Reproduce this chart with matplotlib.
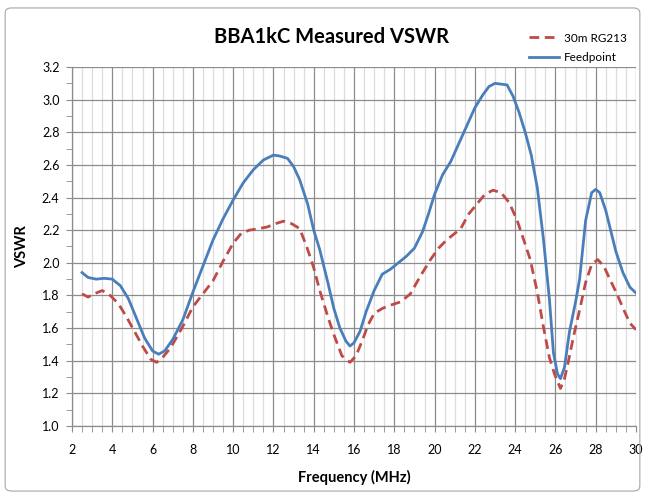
import matplotlib
matplotlib.use("Agg")
import matplotlib.pyplot as plt
from matplotlib.ticker import MultipleLocator, FormatStrFormatter
from matplotlib.patches import FancyBboxPatch

# ---- data ----
feed_freq = [2.5, 2.8, 3.2, 3.6, 4.0, 4.4, 4.8, 5.2, 5.6, 6.0, 6.3, 6.6, 7.0, 7.5,
             8.0, 8.5, 9.0, 9.5, 10.0, 10.5, 11.0, 11.5, 12.0, 12.3, 12.7, 13.0,
             13.3, 13.7, 14.0, 14.3, 14.7, 15.0, 15.3, 15.6, 15.8, 16.0, 16.3,
             16.6, 17.0, 17.4, 17.8, 18.2, 18.6, 19.0, 19.4, 19.7, 20.0, 20.4,
             20.8, 21.2, 21.6, 22.0, 22.4, 22.7, 23.0, 23.3, 23.6, 23.9, 24.2,
             24.5, 24.8, 25.1, 25.4, 25.7, 25.9, 26.1, 26.25, 26.45, 26.7, 27.0,
             27.2, 27.5, 27.8, 28.0, 28.2, 28.5, 28.7, 29.0, 29.35, 29.7, 30.0]
feed_vswr = [1.94, 1.91, 1.90, 1.905, 1.90, 1.86, 1.78, 1.66, 1.54, 1.46, 1.44,
             1.46, 1.53, 1.65, 1.82, 1.98, 2.14, 2.27, 2.385, 2.49, 2.57, 2.63,
             2.66, 2.655, 2.64, 2.59, 2.51, 2.36, 2.20, 2.08, 1.88, 1.72, 1.60,
             1.52, 1.49, 1.51, 1.58, 1.70, 1.83, 1.93, 1.96, 2.00, 2.04, 2.09,
             2.19, 2.30, 2.42, 2.54, 2.62, 2.73, 2.84, 2.95, 3.03, 3.08, 3.10,
             3.095, 3.09, 3.02, 2.92, 2.80, 2.66, 2.46, 2.15, 1.78, 1.45, 1.32,
             1.29, 1.36, 1.58, 1.76, 1.90, 2.26, 2.43, 2.45, 2.43, 2.32, 2.22,
             2.07, 1.94, 1.85, 1.815]

coax_freq = [2.5, 2.8, 3.1, 3.5, 3.9, 4.3, 4.7, 5.1, 5.5, 5.9, 6.2, 6.5, 6.9, 7.5,
             8.0, 8.5, 9.0, 9.5, 10.0, 10.4, 10.8, 11.3, 11.7, 12.1, 12.5, 12.9,
             13.3, 13.65, 14.0, 14.3, 14.7, 15.0, 15.4, 15.8, 16.1, 16.4, 16.7,
             17.0, 17.4, 17.8, 18.3, 18.8, 19.3, 19.8, 20.2, 20.6, 21.0, 21.3,
             21.7, 22.1, 22.5, 22.9, 23.3, 23.7, 24.1, 24.4, 24.75, 25.1, 25.4,
             25.7, 25.95, 26.25, 26.45, 26.65, 26.9, 27.2, 27.5, 27.8, 28.1,
             28.4, 28.7, 29.05, 29.4, 29.7, 30.0]
coax_vswr = [1.81, 1.79, 1.81, 1.83, 1.80, 1.75, 1.67, 1.58, 1.49, 1.41, 1.39,
             1.42, 1.48, 1.61, 1.73, 1.81, 1.89, 2.01, 2.12, 2.18, 2.20, 2.21,
             2.22, 2.24, 2.255, 2.24, 2.21, 2.10, 1.97, 1.83, 1.67, 1.56, 1.43,
             1.39, 1.43, 1.52, 1.62, 1.69, 1.72, 1.74, 1.76, 1.81, 1.92, 2.02,
             2.09, 2.14, 2.18, 2.21, 2.30, 2.36, 2.42, 2.445, 2.43, 2.37, 2.26,
             2.15, 2.02, 1.82, 1.61, 1.42, 1.32, 1.23, 1.29, 1.40, 1.55, 1.71,
             1.88, 1.99, 2.02, 1.98, 1.90, 1.81, 1.71, 1.63, 1.59]

title = "BBA1kC Measured VSWR"
xlabel = "Frequency (MHz)"
ylabel = "VSWR"
label_coax = "30m RG213"
label_feed = "Feedpoint"

FONT = ["Lato", "DejaVu Sans"]
plt.rcParams["font.family"] = FONT

fig = plt.figure(figsize=(6.45, 4.97), dpi=100)
fig.patch.set_facecolor("white")
border = FancyBboxPatch((0.008, 0.012), 0.984, 0.972, boxstyle="round,pad=0,rounding_size=0.01",
                        transform=fig.transFigure, fill=False, edgecolor="#a6a6a6", linewidth=0.8)
fig.patches.append(border)

ax = fig.add_axes([72/645, 1-426/497, (636-72)/645, (426-67)/497])

ax.plot(coax_freq, coax_vswr, color="#be4b48", linewidth=2.0, linestyle=(0, (3.5, 2)), label=label_coax, zorder=3)
ax.plot(feed_freq, feed_vswr, color="#4a7ebb", linewidth=2.0, label=label_feed, zorder=4)

ax.set_xlim(2, 30)
ax.set_ylim(1.0, 3.2)
ax.xaxis.set_major_locator(MultipleLocator(2))
ax.xaxis.set_minor_locator(MultipleLocator(0.5))
ax.yaxis.set_major_locator(MultipleLocator(0.2))
ax.yaxis.set_minor_locator(MultipleLocator(0.1))
ax.yaxis.set_major_formatter(FormatStrFormatter("%.1f"))

ax.grid(True, which="major", color="#8c8c8c", linewidth=0.9, zorder=1)
ax.grid(True, which="minor", axis="x", color="#dcdcdc", linewidth=0.9, zorder=0)
ax.set_axisbelow(True)

for s in ["top", "right"]:
    ax.spines[s].set_visible(False)
for s in ["left", "bottom"]:
    ax.spines[s].set_color("#8c8c8c")
    ax.spines[s].set_linewidth(0.9)

ax.tick_params(axis="both", which="major", length=4, color="#8c8c8c", labelsize=9, direction="out")
ax.tick_params(axis="both", which="minor", length=4, color="#8c8c8c", direction="out")
ax.tick_params(axis="x", which="major", pad=9)
ax.tick_params(axis="y", which="major", pad=5)

ax.set_xlabel(xlabel, fontsize=10.5, fontweight="bold", labelpad=10)
ax.set_ylabel(ylabel, fontsize=10.5, fontweight="bold", labelpad=9)
fig.text(331/645, 1-37/497, title, ha="center", va="center", fontsize=14.5, fontweight="bold")

leg = fig.legend(loc="upper left", bbox_to_anchor=(518/645, 1-22/497), frameon=False,
                 fontsize=8.5, handlelength=2.6, handletextpad=0.4, labelspacing=0.7)

fig.savefig("out.png", dpi=100)
